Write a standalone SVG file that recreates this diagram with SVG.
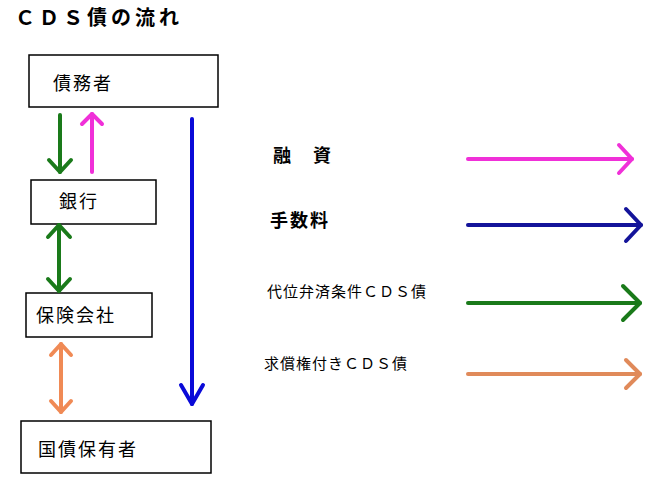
<svg xmlns="http://www.w3.org/2000/svg" width="661" height="486" viewBox="0 0 661 486">
<style>
.box{fill:#fff;stroke:#000;stroke-width:1.5}
.t{font-family:"Noto Sans CJK JP","Liberation Sans",sans-serif;fill:#000}
.nt{font-size:18px;letter-spacing:2px}
.lg{font-size:18px;font-weight:bold;letter-spacing:2px}
.ls{font-size:15px;letter-spacing:1px}
.c{fill:none;stroke-width:4;stroke-linecap:round;stroke-linejoin:round}
.hd{fill:none;stroke-width:4;stroke-linecap:round;stroke-linejoin:round}
</style>
<defs>
<marker id="gs" markerUnits="userSpaceOnUse" orient="auto-start-reverse" overflow="visible" markerWidth="30" markerHeight="30"><path class="hd" stroke="#1a7a1a" d="M-12,-11L0,0L-12,11"/></marker>
<marker id="ms" markerUnits="userSpaceOnUse" orient="auto-start-reverse" overflow="visible" markerWidth="30" markerHeight="30"><path class="hd" stroke="#f030d8" d="M-10,-10L0,0L-10,10"/></marker>
<marker id="bs" markerUnits="userSpaceOnUse" orient="auto-start-reverse" overflow="visible" markerWidth="30" markerHeight="30"><path class="hd" stroke="#0a0ad8" d="M-19,-11L0,0L-19,11"/></marker>
<marker id="os" markerUnits="userSpaceOnUse" orient="auto-start-reverse" overflow="visible" markerWidth="30" markerHeight="30"><path class="hd" stroke="#f08a55" d="M-11,-10L0,0L-11,10"/></marker>
<marker id="ml" markerUnits="userSpaceOnUse" orient="auto" overflow="visible" markerWidth="40" markerHeight="40"><path class="hd" stroke="#f030d8" d="M-13,-14L0,0L-13,14"/></marker>
<marker id="bl" markerUnits="userSpaceOnUse" orient="auto" overflow="visible" markerWidth="40" markerHeight="40"><path class="hd" stroke="#14149a" d="M-15,-16L0,0L-15,16"/></marker>
<marker id="gl" markerUnits="userSpaceOnUse" orient="auto" overflow="visible" markerWidth="40" markerHeight="40"><path class="hd" stroke="#1a7a1a" d="M-17,-17L0,0L-17,17"/></marker>
<marker id="ol" markerUnits="userSpaceOnUse" orient="auto" overflow="visible" markerWidth="40" markerHeight="40"><path class="hd" stroke="#e08a5a" d="M-14,-14L0,0L-14,14"/></marker>
</defs>
<rect width="661" height="486" fill="#fff"/>
<text class="t" x="15" y="25" font-size="20" font-weight="bold" letter-spacing="4">ＣＤＳ債の流れ</text>
<g id="n-debtor"><rect class="box" x="29" y="55" width="189" height="52"/><text class="t nt" x="53" y="90">債務者</text></g>
<g id="n-bank"><rect class="box" x="31" y="180" width="125" height="44"/><text class="t nt" x="59" y="208">銀行</text></g>
<g id="n-insurer"><rect class="box" x="26" y="293" width="126" height="44"/><text class="t nt" x="36" y="322">保険会社</text></g>
<g id="n-holder"><rect class="box" x="21" y="421" width="190" height="52"/><text class="t nt" x="38" y="456">国債保有者</text></g>
<g id="connectors">
<path class="c" stroke="#1a7a1a" d="M60,115V172" marker-end="url(#gs)"/>
<path class="c" stroke="#f030d8" d="M92,172V114" marker-end="url(#ms)"/>
<path class="c" stroke="#1a7a1a" d="M59,225V291" marker-start="url(#gs)" marker-end="url(#gs)"/>
<path class="c" stroke="#f08a55" d="M61,344V412" marker-start="url(#os)" marker-end="url(#os)"/>
<path class="c" stroke="#0a0ad8" d="M192,119V404" marker-end="url(#bs)"/>
</g>
<g id="legend">
<text class="t lg" x="273" y="162">融　資</text>
<path class="c" stroke="#f030d8" d="M468,159H632" marker-end="url(#ml)"/>
<text class="t lg" x="270" y="227">手数料</text>
<path class="c" stroke="#14149a" d="M468,225H641" marker-end="url(#bl)"/>
<text class="t ls" x="267" y="297">代位弁済条件ＣＤＳ債</text>
<path class="c" stroke="#1a7a1a" d="M468,303H640" marker-end="url(#gl)"/>
<text class="t ls" x="264" y="369">求償権付きＣＤＳ債</text>
<path class="c" stroke="#e08a5a" d="M468,374H640" marker-end="url(#ol)"/>
</g>
</svg>
